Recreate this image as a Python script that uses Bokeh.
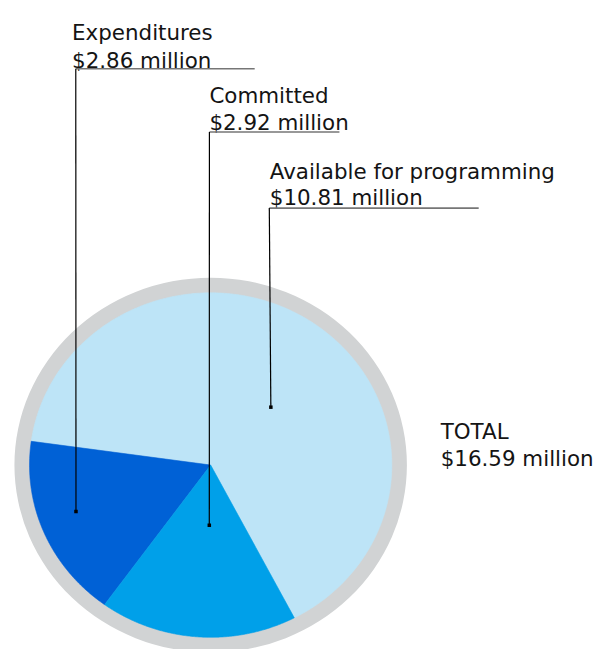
import numpy as np
from bokeh.plotting import figure
from bokeh.models import Range1d
from bokeh.embed import file_html
from bokeh.resources import INLINE
from bokeh.core.properties import value

# ---- data ($ million) ----
categories = ["Available for programming", "Expenditures", "Committed"]
amounts = [10.81, 2.86, 2.92]
slice_colors = ["#BDE4F7", "#0061D6", "#00A0E9"]
total_amount = 16.59

# ---- layout: data units follow a 613 x 665 canvas, y downwards ----
CW, CH = 613, 665
W, H = 597, 649
cx, cy = 215.8, 476.0          # pie centre
rx, ry = 186.0, 176.5          # pie radii (slightly flattened)
ring = 15.5                    # grey rim thickness
start_deg = -62.5              # first slice boundary (maths orientation)

FONT = value("DejaVu Sans")
FS = "21.4px"
TXT = "#141414"

p = figure(width=W, height=H, output_backend="svg", toolbar_location=None,
           x_range=Range1d(0, CW), y_range=Range1d(CH, 0), min_border=0,
           tools="")
p.axis.visible = False
p.xgrid.visible = False
p.ygrid.visible = False
p.outline_line_color = None
p.background_fill_color = "white"

# grey rim
p.ellipse(x=[cx], y=[cy], width=[2 * (rx + ring)], height=[2 * (ry + ring)],
          fill_color="#D1D3D4", line_color=None)

# slices (counter-clockwise on screen from start angle)
frac = np.array(amounts) / np.sum(amounts)
a_end = np.deg2rad(start_deg) + 2 * np.pi * np.cumsum(frac)
a_start = a_end - 2 * np.pi * frac
xs, ys = [], []
for a0, a1 in zip(a_start, a_end):
    t = np.linspace(a0, a1, 240)
    xs.append([cx] + list(cx + rx * np.cos(t)))
    ys.append([cy] + list(cy - ry * np.sin(t)))
p.patches(xs=xs, ys=ys, fill_color=slice_colors, line_color=slice_colors,
          line_width=0.6)

# ---- leader-line annotations ----
ann = {
    "Available for programming": dict(tx=276.5, ty=175.0, gap=26.5, hy=212.7, hx1=491, vx=276.0, dx=277.6, dy=416.7),
    "Expenditures":              dict(tx=73.5,  ty=33.0,  gap=28.0, hy=70.0,  hx1=261, vx=77.3,  dx=77.5,  dy=523.7),
    "Committed":                 dict(tx=214.5, ty=97.0,  gap=27.5, hy=134.7, hx1=348, vx=214.5, dx=214.4, dy=537.7),
}
for name, amt in zip(categories, amounts):
    a = ann[name]
    p.text(x=[a["tx"]], y=[a["ty"]], text=[name], text_font=FONT,
           text_font_size=FS, text_color=TXT, text_baseline="alphabetic")
    p.text(x=[a["tx"]], y=[a["ty"] + a["gap"]], text=[f"${amt:.2f} million"],
           text_font=FONT, text_font_size=FS, text_color=TXT,
           text_baseline="alphabetic")
    p.line(x=[a["vx"], a["hx1"]], y=[a["hy"], a["hy"]], line_color="#767676",
           line_width=1.6)
    p.line(x=[a["vx"], a["dx"]], y=[a["hy"], a["dy"]], line_color="#000000",
           line_width=1.2)
    p.scatter(x=[a["dx"]], y=[a["dy"]], marker="square", size=3.5,
              fill_color="#000000", line_color=None)

# total
p.text(x=[452], y=[441.7], text=["TOTAL"], text_font=FONT, text_font_size=FS,
       text_color=TXT, text_baseline="alphabetic")
p.text(x=[452], y=[469.5], text=[f"${total_amount:.2f} million"], text_font=FONT,
       text_font_size=FS, text_color=TXT, text_baseline="alphabetic")

open("out.html", "w").write(file_html(p, INLINE))
